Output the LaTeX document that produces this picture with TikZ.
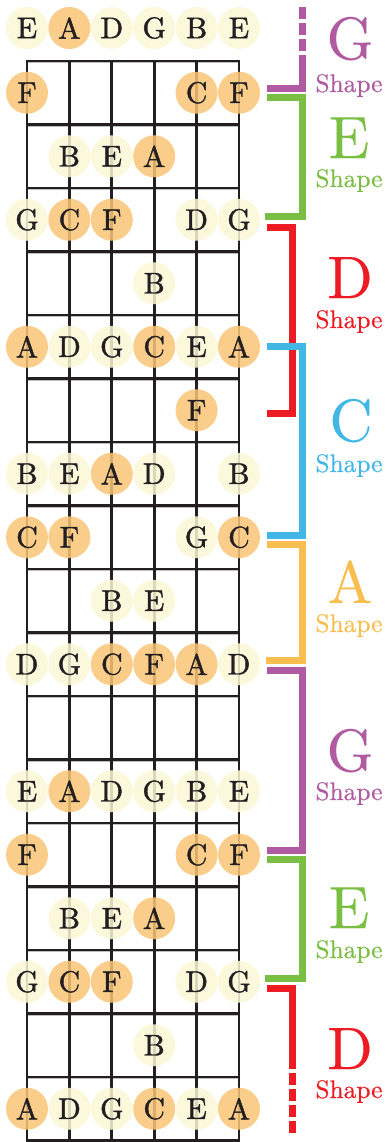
\documentclass[tikz,border=0pt]{standalone}
\usepackage{fontspec}
\newfontfamily\notefont{lmroman10-regular.otf}[FakeBold=1.3]
\newfontfamily\bigfont{lmroman10-regular.otf}[FakeBold=0.3]
\newfontfamily\shpfont{lmroman10-regular.otf}[FakeBold=0.5]
\definecolor{gpurple}{HTML}{B05AA2}
\definecolor{egreen}{HTML}{7ABE43}
\definecolor{dred}{HTML}{ED1C24}
\definecolor{cblue}{HTML}{42B7E6}
\definecolor{aorange}{HTML}{F9BE50}
\definecolor{noteor}{HTML}{F9C675}
\definecolor{notey}{HTML}{FAF7D6}
\definecolor{ink}{HTML}{231F20}
\tikzset{
  note/.style={circle, minimum size=42bp, inner sep=0pt, fill=notey, fill opacity=0.85, text opacity=1, text=ink, font=\notefont\fontsize{30}{30}\selectfont},
  root/.style={note, fill=noteor},
  strline/.style={line width=2.7bp, draw=ink},
  fretline/.style={line width=2.7bp, draw=ink, line cap=rect},
  fretshadow/.style={line width=1.4bp, draw=black!25},
  brk/.style={line width=7bp, line join=miter},
  brkdash/.style={line width=7bp, dash pattern=on 12bp off 4bp, dash phase=12bp},
  big/.style={font=\bigfont\fontsize{60}{60}\selectfont, anchor=base},
  shp/.style={font=\shpfont\fontsize{25.5}{25.5}\selectfont, anchor=base},
}
\begin{document}
\begin{tikzpicture}[x=1bp, y=-1bp]
\useasboundingbox (0,0) rectangle (384,1142);
% fret shadows and frets
\foreach \k in {0,...,17}{
  \draw[fretshadow] (27,61+63.5*\k+1.7) -- (239,61+63.5*\k+1.7);
}
\foreach \i in {0,...,5}{
  \draw[strline] (27+42.4*\i,61) -- (27+42.4*\i,1142);
}
\foreach \k in {0,...,17}{
  \draw[fretline] (27,61+63.5*\k) -- (239,61+63.5*\k);
}
% notes
\foreach \k/\notes in {
  0/{0/E/note,1/A/root,2/D/note,3/G/note,4/B/note,5/E/note},
  1/{0/F/root,4/C/root,5/F/root},
  2/{1/B/note,2/E/note,3/A/root},
  3/{0/G/note,1/C/root,2/F/root,4/D/note,5/G/note},
  4/{3/B/note},
  5/{0/A/root,1/D/note,2/G/note,3/C/root,4/E/note,5/A/root},
  6/{4/F/root},
  7/{0/B/note,1/E/note,2/A/root,3/D/note,5/B/note},
  8/{0/C/root,1/F/root,4/G/note,5/C/root},
  9/{2/B/note,3/E/note},
  10/{0/D/note,1/G/note,2/C/root,3/F/root,4/A/root,5/D/note},
  12/{0/E/note,1/A/root,2/D/note,3/G/note,4/B/note,5/E/note},
  13/{0/F/root,4/C/root,5/F/root},
  14/{1/B/note,2/E/note,3/A/root},
  15/{0/G/note,1/C/root,2/F/root,4/D/note,5/G/note},
  16/{3/B/note},
  17/{0/A/root,1/D/note,2/G/note,3/C/root,4/E/note,5/A/root}}{
  \pgfmathsetmacro\yy{\k==0 ? 28 : 61+63.5*(\k-0.5)}
  \foreach \i/\l/\s in \notes{
    \node[\s] (n\k-\i) at (27+42.4*\i,\yy) {\l};
  }
}
% brackets
\draw[brk, gpurple] (267,88) -- (302,88) -- (302,55);
\draw[brkdash, gpurple] (302,55) -- (302,7);
\draw[brk, egreen] (267,97.5) -- (302,97.5) -- (302,216) -- (265,216);
\draw[brk, dred] (267,227) -- (292,227) -- (292,413) -- (267,413);
\draw[brk, cblue] (267,346) -- (302,346) -- (302,535) -- (267,535);
\draw[brk, aorange] (267,544.5) -- (302,544.5) -- (302,660) -- (266,660);
\draw[brk, gpurple] (267,670.5) -- (302,670.5) -- (302,850) -- (267,850);
\draw[brk, egreen] (267,859.5) -- (302,859.5) -- (302,978) -- (265,978);
\draw[brk, dred] (267,988) -- (292,988) -- (292,1069);
\draw[brkdash, dred] (292,1069) -- (292,1135);
% labels
\node[big, gpurple] (lG1) at (350,59) {G};
\node[shp, gpurple] (sG1) at (349,92) {Shape};
\node[big, egreen] (lE1) at (349,158) {E};
\node[shp, egreen] (sE1) at (349,187) {Shape};
\node[big, dred] (lD1) at (350,298) {D};
\node[shp, dred] (sD1) at (349,328) {Shape};
\node[big, cblue] (lC) at (351,441) {C};
\node[shp, cblue] (sC) at (349,472) {Shape};
\node[big, aorange] (lA) at (350,603) {A};
\node[shp, aorange] (sA) at (349,632) {Shape};
\node[big, gpurple] (lG2) at (350,771) {G};
\node[shp, gpurple] (sG2) at (349,800) {Shape};
\node[big, egreen] (lE2) at (349,928) {E};
\node[shp, egreen] (sE2) at (349,958) {Shape};
\node[big, dred] (lD2) at (350,1069) {D};
\node[shp, dred] (sD2) at (349,1098) {Shape};
\end{tikzpicture}
\end{document}
